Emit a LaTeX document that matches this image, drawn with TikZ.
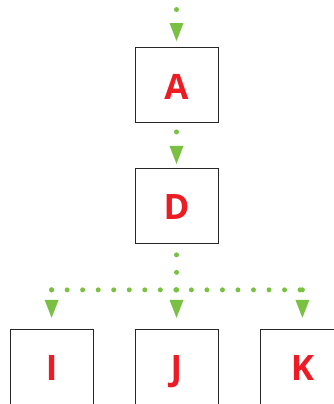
\documentclass[tikz,border=0pt]{standalone}
\usepackage{fontspec}
\setmainfont{Open Sans}
\usepackage{tikz}
\usetikzlibrary{arrows.meta, positioning}
\definecolor{treeGreen}{RGB}{122,193,67}
\definecolor{treeRed}{RGB}{237,28,36}
\tikzset{
    treebox/.style={rectangle, draw=black!85, line width=0.9pt, fill=white,
        minimum width=83pt, minimum height=75pt, inner sep=0pt,
        text height=28pt, text depth=0pt,
        font=\fontsize{35}{35}\selectfont\bfseries, text=treeRed},
    dotline/.style={treeGreen, line width=5pt, line cap=round,
        dash pattern=on 0pt off 17.5pt},
    dotarrow/.style={dotline, -{Triangle[length=18pt, width=14pt, line width=0pt]}},
}

\begin{document}
\begin{tikzpicture}[x=1pt, y=1pt]
    \useasboundingbox (0,0) rectangle (334,-404);
    % boxes
    \node[treebox] (A) at (176.5,-85) {A};
    \node[treebox, below=45pt of A] (D) {D};
    \node[treebox, below=85pt of D] (J) {J};
    \node[treebox, left=41pt of J] (I) {I};
    \node[treebox, right=42pt of J] (K) {K};
    \coordinate[above=37.5pt of A] (entry);
    \coordinate[below=46pt of D] (bus);
    % dotted connectors
    \draw[dotarrow, shorten >=6pt] (entry) -- (A);
    \draw[dotarrow, shorten <=9pt, shorten >=4pt] (A) -- (D);
    \draw[dotline, shorten <=11pt] (D) -- (bus);
    \draw[dotline, dash pattern=on 0pt off 15.53pt] (bus -| I) -- (bus -| K);
    \foreach \child in {I,J,K}
        \draw[dotarrow, shorten >=11pt] (bus -| \child) -- (\child);
\end{tikzpicture}
\end{document}
